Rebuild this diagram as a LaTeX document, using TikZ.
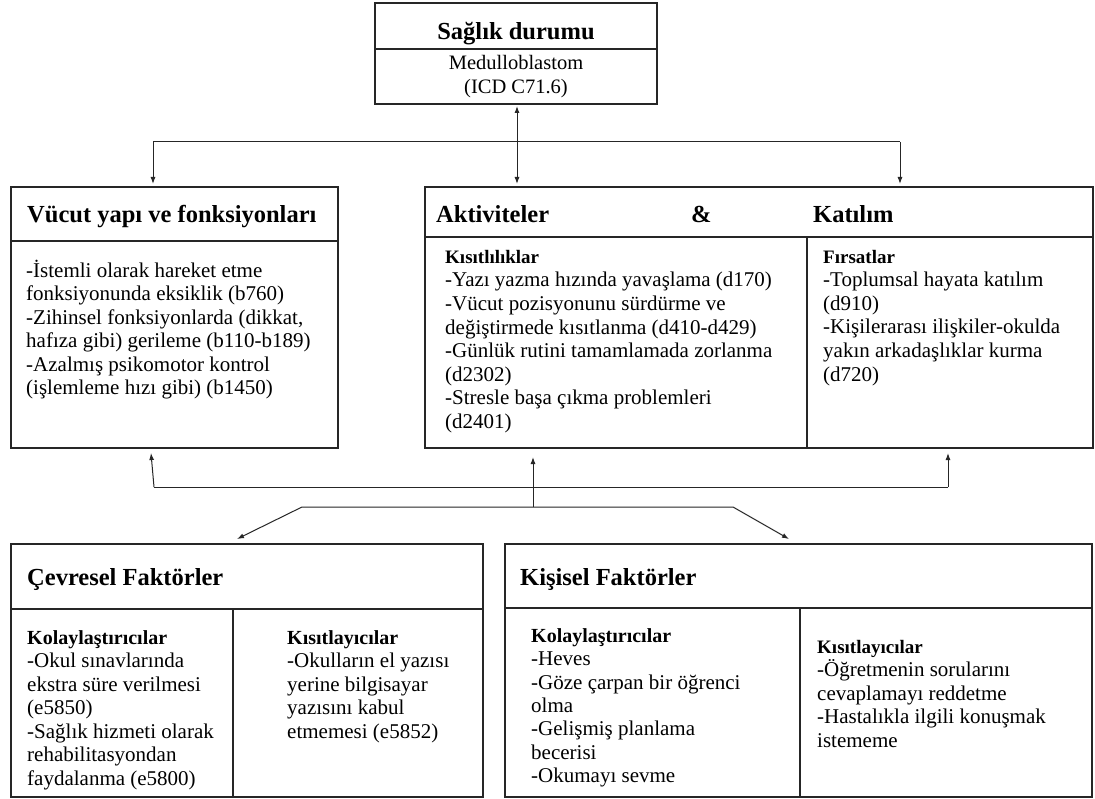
\documentclass[tikz,border=0pt]{standalone}
\usepackage{fontspec}
\setmainfont{Liberation Serif}
\usetikzlibrary{arrows.meta}
% first-line strut: fixes the distance from a text block's top to its first baseline
\newcommand\tstr{\rule{0pt}{20pt}}

\begin{document}
\begin{tikzpicture}[x=1pt,y=-1pt,
  box/.style={draw=black!85, line width=1.3pt, rectangle, inner sep=0pt, outer sep=0pt, anchor=north west},
  rule/.style={draw=black!85, line width=1.2pt},
  ttl/.style={font=\bfseries\fontsize{24.5}{28}\selectfont, anchor=base west, inner sep=0pt},
  txt/.style={font=\fontsize{21}{23.5}\selectfont, anchor=north west, inner sep=0pt, align=left},
  conn/.style={draw=black!85, line width=1pt},
  tip/.style={-{Latex[length=7pt,width=5pt]}},
]
\useasboundingbox[fill=white] (0,0) rectangle (1095,799);

% ---------- health condition ----------
\node[box, minimum width=282pt, minimum height=101pt] (health) at (375,3) {};
\draw[rule] (health.west |- 0,49) -- (health.east |- 0,49);
\node[ttl, anchor=base] (healthT) at (516,39.5) {Sağlık durumu};
\node[font=\fontsize{20.5}{23.5}\selectfont, anchor=base, inner sep=0pt] (healthA) at (516,70) {Medulloblastom};
\node[font=\fontsize{20.5}{23.5}\selectfont, anchor=base, inner sep=0pt] (healthB) at (516,94) {(ICD C71.6)};

% ---------- body structures and functions ----------
\node[box, minimum width=327pt, minimum height=261pt] (body) at (11,187) {};
\draw[rule] (body.west |- 0,241) -- (body.east |- 0,241);
\node[ttl] (bodyT) at (27,223) {Vücut yapı ve fonksiyonları};
\node[txt, font=\fontsize{21}{23.5}\selectfont] (bodyL) at (26,257) {\tstr-İstemli olarak hareket etme\\
fonksiyonunda eksiklik (b760)\\
-Zihinsel fonksiyonlarda (dikkat,\\
hafıza gibi) gerileme (b110-b189)\\
-Azalmış psikomotor kontrol\\
(işlemleme hızı gibi) (b1450)};

% ---------- activities and participation ----------
\node[box, minimum width=668pt, minimum height=261pt] (act) at (425,187) {};
\draw[rule] (act.west |- 0,237) -- (act.east |- 0,237);
\draw[rule] (807,237) -- (807,0 |- act.south);
\node[ttl] (actT) at (436,223) {Aktiviteler};
\node[ttl] (actAmp) at (691,223) {\&};
\node[ttl] (actK) at (813,223) {Katılım};
\node[txt, font=\fontsize{21}{23.6}\selectfont] (actL) at (445,243) {\tstr{\bfseries\fontsize{19}{23.6}\selectfont Kısıtlılıklar}\\
-Yazı yazma hızında yavaşlama (d170)\\
-Vücut pozisyonunu sürdürme ve\\
değiştirmede kısıtlanma (d410-d429)\\
-Günlük rutini tamamlamada zorlanma\\
(d2302)\\
-Stresle başa çıkma problemleri\\
(d2401)};
\node[txt, font=\fontsize{21}{23.6}\selectfont] (actR) at (823,243) {\tstr{\bfseries\fontsize{19}{23.6}\selectfont Fırsatlar}\\
-Toplumsal hayata katılım\\
(d910)\\
-Kişilerarası ilişkiler-okulda\\
yakın arkadaşlıklar kurma\\
(d720)};

% ---------- environmental factors ----------
\node[box, minimum width=472pt, minimum height=253pt] (env) at (11,544) {};
\draw[rule] (env.west |- 0,609) -- (env.east |- 0,609);
\draw[rule] (233,609) -- (233,0 |- env.south);
\node[ttl] (envT) at (27,585) {Çevresel Faktörler};
\node[txt] (envL) at (27,624) {\tstr{\bfseries\fontsize{20}{23.5}\selectfont Kolaylaştırıcılar}\\
-Okul sınavlarında\\
ekstra süre verilmesi\\
(e5850)\\
-Sağlık hizmeti olarak\\
rehabilitasyondan\\
faydalanma (e5800)};
\node[txt] (envR) at (287,624) {\tstr{\bfseries\fontsize{20}{23.5}\selectfont Kısıtlayıcılar}\\
-Okulların el yazısı\\
yerine bilgisayar\\
yazısını kabul\\
etmemesi (e5852)};

% ---------- personal factors ----------
\node[box, minimum width=587pt, minimum height=253pt] (pers) at (505,544) {};
\draw[rule] (pers.west |- 0,608) -- (pers.east |- 0,608);
\draw[rule] (800,608) -- (800,0 |- pers.south);
\node[ttl] (persT) at (520,585) {Kişisel Faktörler};
\node[txt, font=\fontsize{21}{23.4}\selectfont] (persL) at (531,622) {\tstr{\bfseries\fontsize{20}{23.4}\selectfont Kolaylaştırıcılar}\\
-Heves\\
-Göze çarpan bir öğrenci\\
olma\\
-Gelişmiş planlama\\
becerisi\\
-Okumayı sevme};
\node[txt, font=\fontsize{21}{23.5}\selectfont] (persR) at (817,633) {\tstr{\bfseries\fontsize{19}{23.5}\selectfont Kısıtlayıcılar}\\
-Öğretmenin sorularını\\
cevaplamayı reddetme\\
-Hastalıkla ilgili konuşmak\\
istememe};

% ---------- connectors ----------
% health condition <-> activities
\draw[conn, {Latex[length=7pt,width=5pt]}-{Latex[length=7pt,width=5pt]}, shorten <=2pt, shorten >=3pt]
  (517,0 |- health.south) -- (517,0 |- act.north);
% health condition -> body and participation
\coordinate (topL) at (153,142);
\coordinate (topR) at (900,142);
\draw[conn] (topL) -- (topR);
\draw[conn, tip, shorten >=3pt] (topL) -- (topL |- body.north);
\draw[conn, tip, shorten >=3pt] (topR) -- (topR |- act.north);
% contextual factors -> body, activities, participation
\coordinate (botL) at (154,487);
\coordinate (botR) at (948,487);
\coordinate (botLtip) at (151,453);
\coordinate (botRtip) at (948,453);
\draw[conn] (botL) -- (botR);
\draw[conn, tip] (botL) -- (botLtip);
\draw[conn, tip] (botR) -- (botRtip);
\coordinate (midJ) at (533,507);
\draw[conn, tip, shorten >=9pt] (midJ) -- (midJ |- act.south);
% link between the two contextual boxes
\coordinate (trapL) at (302,507);
\coordinate (trapR) at (733,507);
\coordinate (envTip) at (237,539);
\coordinate (persTip) at (789,539);
\draw[conn, {Latex[length=7pt,width=5pt]}-{Latex[length=7pt,width=5pt]}]
  (envTip) -- (trapL) -- (trapR) -- (persTip);
\end{tikzpicture}
\end{document}
